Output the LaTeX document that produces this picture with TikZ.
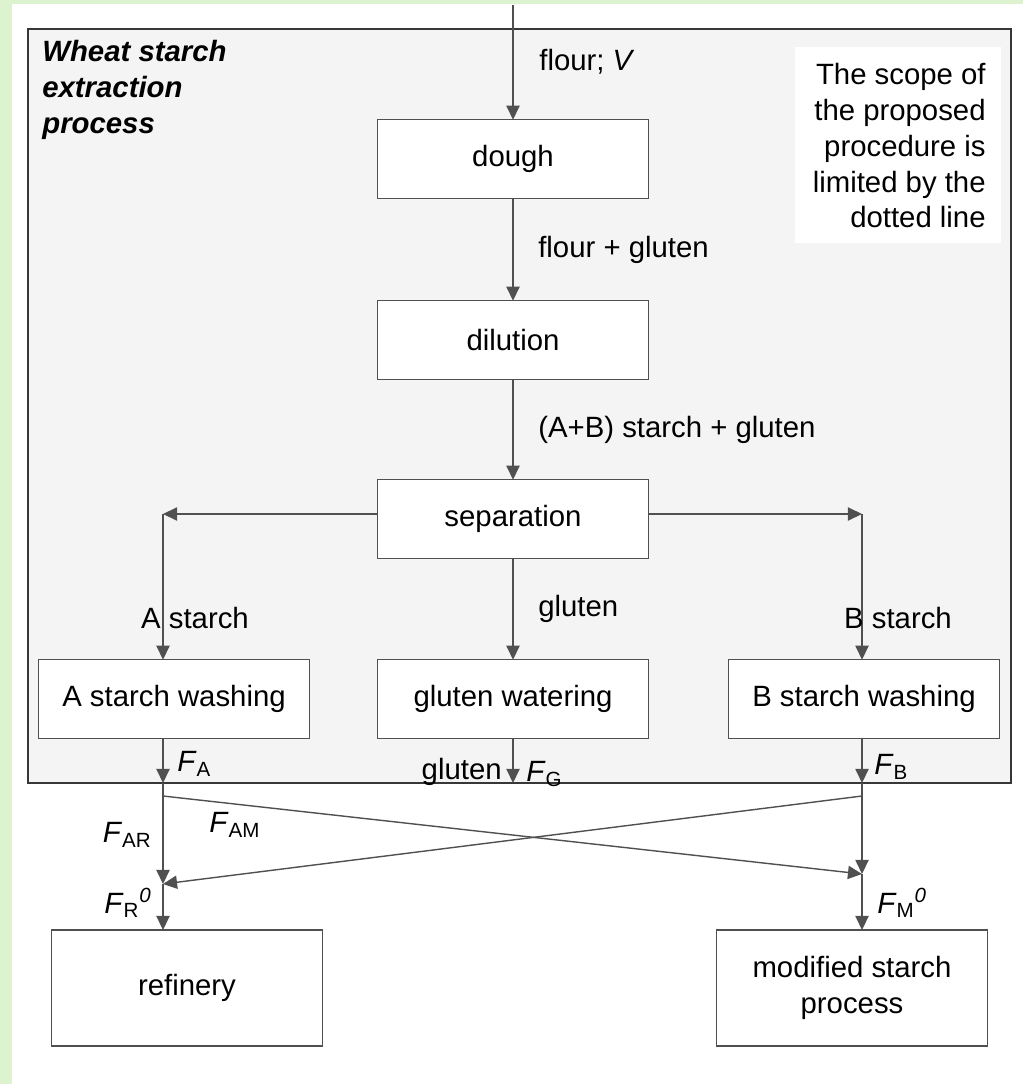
\documentclass[tikz,border=0pt]{standalone}
\usepackage{fontspec}
\setmainfont{Liberation Sans}
\usepackage{amsmath}
\usepackage{tikz}
\usetikzlibrary{arrows,arrows.meta,shapes}
\usepackage{tkz-graph}

\definecolor{leafgreen}{RGB}{221,242,206}
\definecolor{framegray}{RGB}{55,55,55}
\definecolor{boxline}{RGB}{80,80,80}
\definecolor{panel}{RGB}{244,244,244}

\newcommand{\flow}[1]{\textit{F}\textsubscript{#1}}

\begin{document}
\begin{tikzpicture}[x=0.02cm,y=-0.02cm,
    font=\fontsize{16.7}{20.4}\selectfont,
    flowarrow/.style={draw=boxline,line width=0.8pt,-{Triangle[length=8pt,width=7.5pt]}}]
    \useasboundingbox (0,0) rectangle (1023,1084);
    % background, frame and notes
    \fill[leafgreen] (0,0) rectangle (12,1084);
    \fill[leafgreen] (0,0) rectangle (1023,4);
    \filldraw[fill=panel,draw=framegray,line width=1.2pt] (28,29) rectangle (1011,783);
    \fill[white] (795,47) rectangle (1001,243);
    \node[anchor=north west,inner sep=0pt,align=left,font=\fontsize{16.7}{20.4}\selectfont\bfseries\itshape] (title) at (42,40)
        {Wheat starch\\extraction\\process};
    \node[anchor=north east,inner sep=0pt,align=right] (scope) at (986,63)
        {The scope of\\the proposed\\procedure is\\limited by the\\dotted line};

    \GraphInit[vstyle=Normal]
    \tikzset{VertexStyle/.style={draw=boxline,line width=0.8pt,fill=white,rectangle,
        align=center,minimum width=5.42cm,minimum height=1.57cm,inner sep=0pt},
        EdgeStyle/.style={flowarrow},
        LabelStyle/.style={anchor=west,xshift=14pt,inner sep=0pt,fill=none,draw=none}}
    \Vertex[x=513,y=159,L={dough}]{dough}
    \Vertex[x=513,y=340,L={dilution}]{dilution}
    \Vertex[x=513,y=519,L={separation}]{separation}
    \Vertex[x=174,y=699,L={A starch washing}]{awash}
    \Vertex[x=513,y=699,L={gluten watering}]{gwater}
    \Vertex[x=864,y=699,L={B starch washing}]{bwash}
    \begin{scope}[VertexStyle/.append style={minimum height=2.32cm}]
    \Vertex[x=187,y=988,L={refinery}]{refinery}
    \Vertex[x=852,y=988,L={modified starch\\process}]{modified}
    \end{scope}

    \coordinate (flourin) at (513,5);
    \coordinate (sepL) at (163,514);
    \coordinate (sepR) at (862,514);
    \coordinate (fA) at (163,783);
    \coordinate (fG) at (513,783);
    \coordinate (fB) at (862,783);
    \coordinate (fAout) at (163,796);
    \coordinate (fBout) at (862,796);
    \coordinate (jR) at (163,884);
    \coordinate (jM) at (862,874);

    \draw[flowarrow] (flourin) -- (dough);
    \Edge[label={flour + gluten}](dough)(dilution)
    \Edge[label={(A+B) starch + gluten}](dilution)(separation)
    \Edge[label={gluten}](separation)(gwater)
    \draw[flowarrow] (separation.west |- sepL) -- (sepL);
    \draw[flowarrow] (sepL) -- (sepL |- awash.north);
    \draw[flowarrow] (separation.east |- sepR) -- (sepR);
    \draw[flowarrow] (sepR) -- (sepR |- bwash.north);
    \draw[flowarrow] (awash.south -| fA) -- (fA);
    \draw[flowarrow] (gwater) -- (fG);
    \draw[flowarrow] (bwash.south -| fB) -- (fB);
    \draw[flowarrow] (fA) -- (jR);
    \draw[flowarrow] (jR) -- (refinery.north -| jR);
    \draw[flowarrow] (fB) -- (jM);
    \draw[flowarrow] (jM) -- (modified.north -| jM);
    \draw[flowarrow] (fAout) -- (jM);
    \draw[flowarrow] (fBout) -- (jR);

    % stream labels
    \node[anchor=west,inner sep=0pt] (flourlbl) at (539,62) {flour; \textit{V}};
    \node[inner sep=0pt] (astarch) at (195,618) {A starch};
    \node[inner sep=0pt] (bstarch) at (898,618) {B starch};
    \node[anchor=west,inner sep=0pt] (lblA) at (177,764) {\flow{A}};
    \node[anchor=east,inner sep=0pt] (glutenout) at (502,772) {gluten};
    \node[anchor=west,inner sep=0pt] (lblG) at (526,774) {\flow{G}};
    \node[anchor=west,inner sep=0pt] (lblB) at (874,767) {\flow{B}};
    \node[anchor=east,inner sep=0pt] (lblAR) at (152,835) {\flow{AR}};
    \node[anchor=west,inner sep=0pt] (lblAM) at (209,825) {\flow{AM}};
    \node[anchor=east,inner sep=0pt] (lblR) at (152,903) {\flow{R}\textsuperscript{\textit{0}}};
    \node[anchor=west,inner sep=0pt] (lblM) at (877,903) {\flow{M}\textsuperscript{\textit{0}}};
\end{tikzpicture}
\end{document}
